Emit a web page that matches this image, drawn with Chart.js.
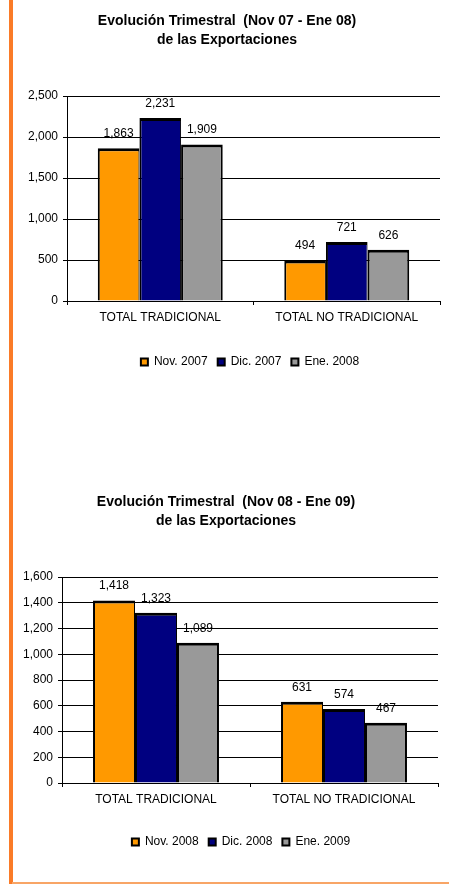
<!DOCTYPE html>
<html>
<head>
<meta charset="utf-8">
<script src="https://cdn.jsdelivr.net/npm/chart.js@4.4.1/dist/chart.umd.min.js"></script>
<style>
    body { margin: 0; background: #fff; width: 449px; height: 884px; position: relative; overflow: hidden; }
    #stripe { position: absolute; left: 9px; top: 0; width: 4px; height: 884px; background: #FA7B28; }
    #rule { position: absolute; left: 12px; top: 882px; width: 437px; height: 2px; background: #F8A566; }
    canvas { position: absolute; left: 14px; }
    #expChart1 { top: 0; }
    #expChart2 { top: 481px; }
</style>
</head>
<body>
<div id="stripe"></div>
<canvas id="expChart1" width="435" height="378"></canvas>
<canvas id="expChart2" width="435" height="377"></canvas>
<div id="rule"></div>
<script>
//		Categories shared by both charts.
var categories	= ['TOTAL TRADICIONAL', 'TOTAL NO TRADICIONAL'];

//		Nov 07 - Ene 08.
var months1	= ['Nov. 2007', 'Dic. 2007', 'Ene. 2008'];
var nov07	= [1863, 494];
var dic07	= [2231, 721];
var ene08	= [1909, 626];
var yMax1	= 2500;
var yStep1	= 500;

//		Nov 08 - Ene 09.
var months2	= ['Nov. 2008', 'Dic. 2008', 'Ene. 2009'];
var nov08	= [1418, 631];
var dic08	= [1323, 574];
var ene09	= [1089, 467];
var yMax2	= 1600;
var yStep2	= 200;

var barColors	= ['#FF9900', '#000080', '#999999'];
var fontFam	= "Arial, 'Liberation Sans', sans-serif";

//	Value labels above bars - drawn before the grid so grid lines run over them.
var valueLabels = {
    id: 'valueLabels',
    beforeDraw: function(chart) {
        var ctx = chart.ctx;
        ctx.save();
        ctx.font = '12px ' + fontFam;
        ctx.fillStyle = '#000';
        ctx.textAlign = 'center';
        ctx.textBaseline = 'alphabetic';
        chart.data.datasets.forEach(function(ds, i) {
            chart.getDatasetMeta(i).data.forEach(function(bar, j) {
                ctx.fillText(ds.data[j].toLocaleString('en-US'), bar.x, bar.y - 11);
            });
        });
        ctx.restore();
    },
    afterLayout: function(chart, args, opts) {
        //	nudge the legend sideways
        var dx = opts.legendShift || 0;
        chart.legend.left += dx;
        chart.legend.right += dx;
    }
};

function makeChart(id, title, months, series, yMax, yStep, yWidth, padRight, xHeight, legendShift) {
    var datasets = series.map(function(vals, i) {
        return {
            label: months[i],
            data: vals,
            backgroundColor: barColors[i],
            borderColor: '#000',
            borderWidth: { top: 3, left: 2, right: (i === 2 ? 2 : 1), bottom: 0 },
            borderSkipped: 'bottom',
            categoryPercentage: 0.67,
            barPercentage: 1
        };
    });

    return new Chart(document.getElementById(id), {
        type: 'bar',
        data: { labels: categories, datasets: datasets },
        plugins: [valueLabels],
        options: {
            responsive: false,
            animation: false,
            devicePixelRatio: 1,
            locale: 'en-US',
            layout: { padding: { left: 0, right: padRight, top: 0, bottom: 0 } },
            plugins: {
                valueLabels: { legendShift: legendShift },
                tooltip: { enabled: false },
                title: {
                    display: true,
                    text: title,
                    color: '#000',
                    font: { family: fontFam, size: 14, weight: 'bold', lineHeight: 1.4 },
                    padding: { top: 11, bottom: 45.8 }
                },
                legend: {
                    position: 'bottom',
                    labels: {
                        color: '#000',
                        font: { family: fontFam, size: 12 },
                        boxWidth: 7,
                        boxHeight: 7,
                        padding: 10,
                        generateLabels: function(chart) {
                            return chart.data.datasets.map(function(ds, i) {
                                return {
                                    text: ds.label,
                                    fillStyle: ds.backgroundColor,
                                    strokeStyle: '#000',
                                    lineWidth: 2,
                                    fontColor: '#000',
                                    datasetIndex: i
                                };
                            });
                        }
                    }
                }
            },
            scales: {
                x: {
                    offset: true,
                    grid: { display: true, drawOnChartArea: false, drawTicks: true, tickLength: 4, color: '#000', offset: true },
                    border: { display: true, color: '#000', width: 1 },
                    ticks: { color: '#000', font: { family: fontFam, size: 12 }, padding: 5.5, maxRotation: 0 },
                    afterFit: function(scale) { scale.height = xHeight; }
                },
                y: {
                    min: 0,
                    max: yMax,
                    ticks: { stepSize: yStep, color: '#000', font: { family: fontFam, size: 12 }, padding: 5 },
                    grid: { color: '#000', lineWidth: 1, tickLength: 4, drawTicks: true },
                    border: { display: true, color: '#000', width: 1 },
                    afterFit: function(scale) { scale.width = yWidth; }
                }
            }
        }
    });
}

makeChart('expChart1', ['Evolución Trimestral  (Nov 07 - Ene 08)', 'de las Exportaciones'],
    months1, [nov07, dic07, ene08], yMax1, yStep1, 53, 9, 45, 23);
makeChart('expChart2', ['Evolución Trimestral  (Nov 08 - Ene 09)', 'de las Exportaciones'],
    months2, [nov08, dic08, ene09], yMax2, yStep2, 48, 11, 43, 15);
</script>
</body>
</html>
